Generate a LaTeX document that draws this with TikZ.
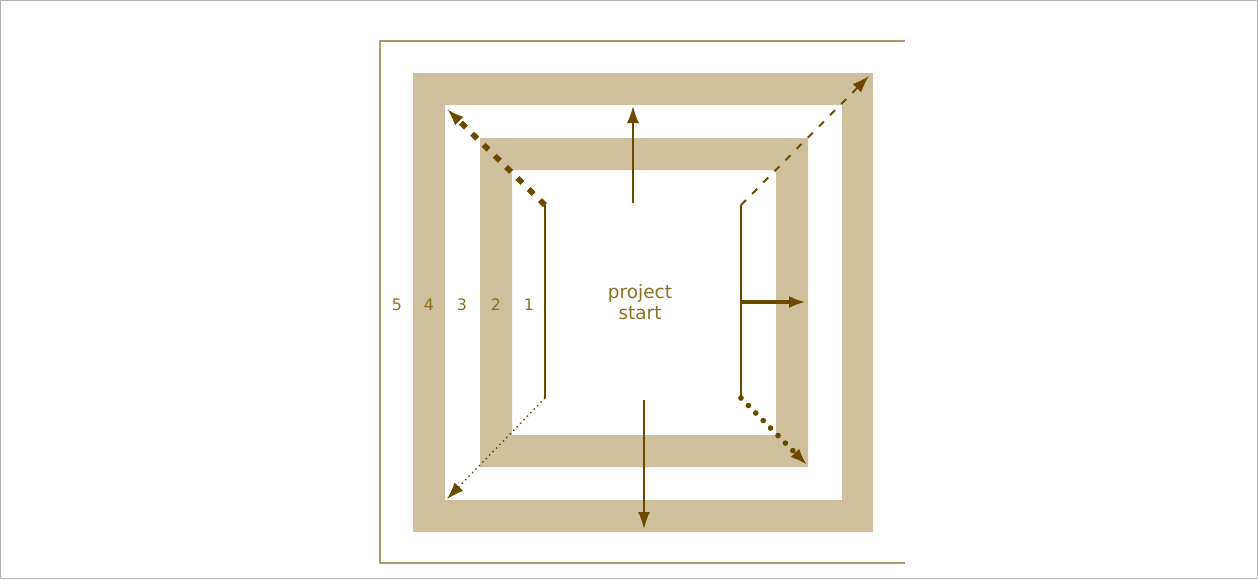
\documentclass[tikz,border=0pt]{standalone}
\usepackage{fontspec}
\setmainfont{DejaVu Sans}
\usetikzlibrary{arrows.meta}

\definecolor{bandtan}{HTML}{CFBF9C}
\definecolor{framebr}{HTML}{B09A6A}
\definecolor{arrowbr}{HTML}{6B4A00}
\definecolor{textbr}{HTML}{8B7020}

\begin{document}
\begin{tikzpicture}[x=0.02cm,y=-0.02cm,
  tip/.style={-{Latex[length=0.34cm,width=0.24cm]}},
  conn/.style={draw=arrowbr,line width=1.1pt},
  num/.style={text=textbr,font=\fontsize{9}{10}\selectfont,inner sep=0pt}]
  % page and outer frame
  \draw[gray!60,line width=0.6pt] (0.5,0.5) rectangle (1257.5,578.5);
  \draw[framebr,line width=1.1pt] (905,41) -- (380,41) -- (380,563) -- (905,563);
  % the two bands
  \fill[bandtan,even odd rule] (413,73) rectangle (873,532) (445,105) rectangle (842,500);
  \fill[bandtan,even odd rule] (480,138) rectangle (808,467) (512,170) rectangle (776,435);
  % ring numbers
  \node[num] (n5) at (397,305) {5};
  \node[num] (n4) at (429,305) {4};
  \node[num] (n3) at (462,305) {3};
  \node[num] (n2) at (496,305) {2};
  \node[num] (n1) at (529,305) {1};
  \node[text=textbr,align=center,font=\fontsize{10.5}{12}\selectfont] (proj) at (640,302) {project\\start};
  % end points
  \coordinate (lt) at (545,205); \coordinate (lb) at (545,398);
  \coordinate (rt) at (741,205); \coordinate (rb) at (741,398);
  \coordinate (rm) at (741,302); \coordinate (rmo) at (806,302);
  \coordinate (ti) at (633,203); \coordinate (to) at (633,106);
  \coordinate (bi) at (644,400); \coordinate (bo) at (644,529);
  \coordinate (ltc) at (447,109); \coordinate (rtc) at (869,76);
  \coordinate (lbc) at (447,499); \coordinate (rbc) at (807,465);
  \draw[conn] (lt) -- (lb);
  \draw[conn] (rt) -- (rb);
  \draw[conn,tip] (ti) -- (to);
  \draw[conn,tip] (bi) -- (bo);
  \draw[conn,tip,line width=2.4pt] (rm) -- (rmo);
  \draw[conn,tip,line width=3.2pt,dash pattern=on 4pt off 5pt] (lt) -- (ltc);
  \draw[conn,tip,dash pattern=on 4pt off 5pt] (rt) -- (rtc);
  \draw[conn,tip,line width=0.8pt,dotted] (lb) -- (lbc);
  \draw[conn,tip,line width=3.2pt,line cap=round,dash pattern=on 0pt off 6pt] (rb) -- (rbc);
\end{tikzpicture}
\end{document}
